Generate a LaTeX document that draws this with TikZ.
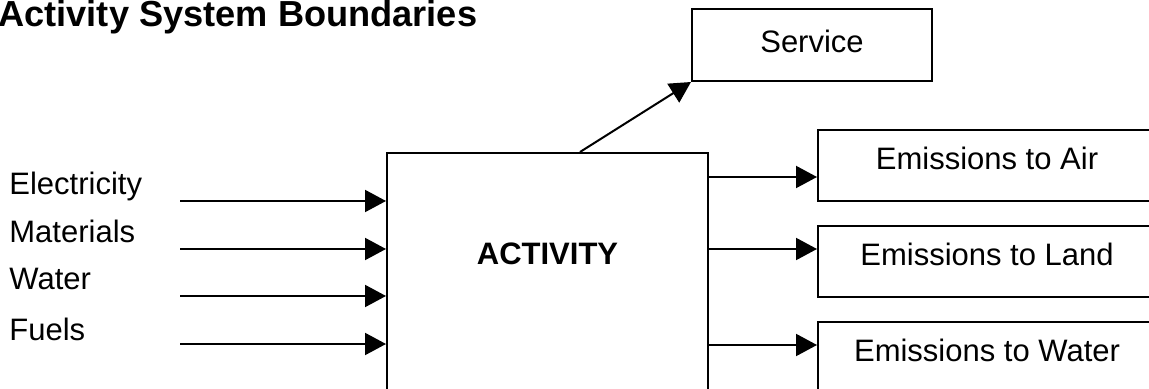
\documentclass[tikz,border=0pt]{standalone}
\usepackage{fontspec}
\setmainfont{Liberation Sans}
\usepackage{tikz}
\usetikzlibrary{shapes,arrows.meta}
\newcommand{\txtsize}{\fontsize{15.5pt}{18pt}\selectfont}
\newcommand{\titlesize}{\fontsize{18.1pt}{21pt}\selectfont}
\tikzstyle{activity} = [rectangle,minimum width=160.5pt,minimum height=133.5pt,text centered,text depth=32.5pt,draw=black,line width=1pt,font=\txtsize\bfseries]
\tikzstyle{service} = [rectangle,minimum width=120pt,minimum height=36pt,text centered,text depth=4pt,draw=black,line width=1pt]
\tikzstyle{emission} = [rectangle,minimum width=169pt,minimum height=35.5pt,text centered,text depth=7pt,draw=black,line width=1pt]
\tikzstyle{input} = [anchor=base west,inner sep=0pt]
\tikzstyle{arrow} = [line width=1pt,-{Triangle[length=10.5pt,width=11pt]}]

\begin{document}
\begin{tikzpicture}[x=0.5pt,y=-0.5pt,node distance=48pt,font=\txtsize]
\useasboundingbox (0,0) rectangle (1149,389);
\clip (0,0) rectangle (1149,389);
\node (title) [anchor=base west,inner sep=0pt,font=\titlesize\bfseries] at (-2,27) {Activity System Boundaries};

\node (service) [service] at (812,45) {Service};
\node (activity) [activity] at (547.5,286.5) {ACTIVITY};
\node (air) [emission] at (987,165.5) {Emissions to Air};
\node (land) [emission,below of=air] {Emissions to Land};
\node (water) [emission,below of=land] {Emissions to Water};

\node (elec) [input] at (9,195) {Electricity};
\node (mat) [input] at (9,243) {Materials};
\node (wat) [input] at (9,290) {Water};
\node (fuel) [input] at (9,340) {Fuels};

\coordinate (elecin) at (180,201);
\coordinate (matin) at (180,249);
\coordinate (watin) at (180,296);
\coordinate (fuelin) at (180,344);
\coordinate (airin) at ([yshift=-5.75pt]air.west);
\coordinate (landin) at ([yshift=6.25pt]land.west);
\coordinate (waterin) at ([yshift=6.25pt]water.west);

\draw [arrow] (elecin) -- (elecin -| activity.west);
\draw [arrow] (matin) -- (matin -| activity.west);
\draw [arrow] (watin) -- (watin -| activity.west);
\draw [arrow] (fuelin) -- (fuelin -| activity.west);
\draw [arrow] ([xshift=16.25pt]activity.north) -- (service.south west);
\draw [arrow] (activity.east |- airin) -- (airin);
\draw [arrow] (activity.east |- landin) -- (landin);
\draw [arrow] (activity.east |- waterin) -- (waterin);
\end{tikzpicture}
\end{document}
